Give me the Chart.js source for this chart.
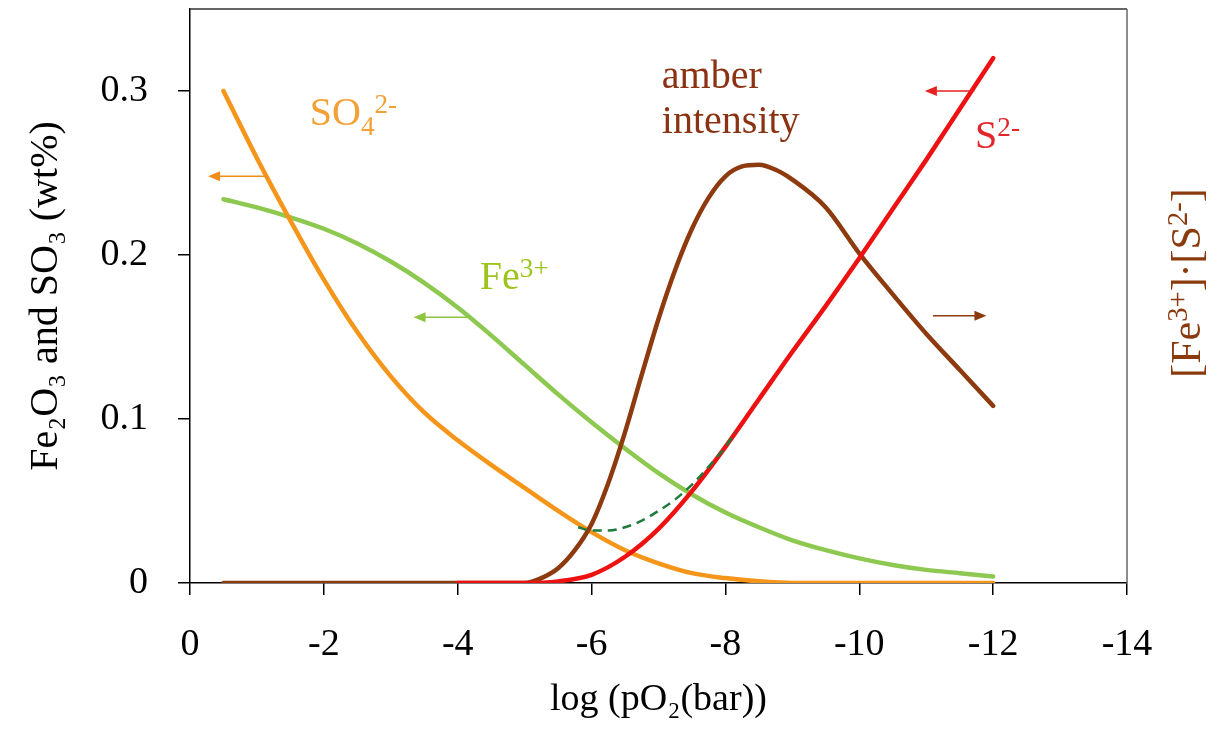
<!DOCTYPE html>
<html>
<head>
<meta charset="utf-8">
<script src="https://cdn.jsdelivr.net/npm/chart.js@4.4.1/dist/chart.umd.min.js"></script>
<style>
  html, body { margin: 0; padding: 0; background: #fff; }
  #wrap { width: 1213px; height: 731px; }
</style>
</head>
<body>
<div id="wrap"><canvas id="c" width="1213" height="731"></canvas></div>
<script>
// Datos (log pO2 en el eje x)
const xVals = [-0.5, -1, -1.5, -2, -2.5, -3, -3.5, -4, -4.5, -5, -5.5, -6, -6.5, -7, -7.5, -8, -8.5, -9, -9.5, -10, -10.5, -11, -11.5, -12];
const so4   = [0.300, 0.259, 0.221, 0.185, 0.153, 0.126, 0.104, 0.087, 0.072, 0.058, 0.044, 0.031, 0.020, 0.012, 0.006, 0.003, 0.001, 0, 0, 0, 0, 0, 0, 0];
const fe3   = [0.234, 0.229, 0.223, 0.216, 0.207, 0.196, 0.183, 0.168, 0.151, 0.133, 0.115, 0.098, 0.082, 0.067, 0.054, 0.043, 0.034, 0.026, 0.020, 0.015, 0.011, 0.008, 0.006, 0.004];
const s2    = [null, null, null, null, null, null, null, 0, 0, 0, 0.001, 0.005, 0.016, 0.033, 0.056, 0.083, 0.112, 0.141, 0.169, 0.198, 0.228, 0.258, 0.289, 0.320];
const amberX = [-0.5, -5, -5.25, -5.5, -5.75, -6, -6.25, -6.5, -6.75, -7, -7.25, -7.5, -7.75, -8, -8.25, -8.5, -8.75, -9, -9.5, -10, -10.5, -11, -11.5, -12];
const amber  = [0, 0, 0.003, 0.009, 0.020, 0.036, 0.061, 0.092, 0.127, 0.161, 0.191, 0.216, 0.235, 0.248, 0.254, 0.255, 0.252, 0.246, 0.229, 0.201, 0.176, 0.152, 0.130, 0.108];
const dashX = [-5.8, -6, -6.25, -6.5, -6.75, -7, -7.25, -7.5, -7.75, -8, -8.15];
const dashY = [0.034, 0.032, 0.032, 0.034, 0.038, 0.044, 0.051, 0.060, 0.071, 0.083, 0.092];
const xTicks = [0, -2, -4, -6, -8, -10, -12, -14];
const yTicks = [0, 0.1, 0.2, 0.3];

const SERIF = "'Liberation Serif', 'Times New Roman', serif";
const pts = (xs, ys) => xs.map((x, i) => ({ x: x, y: ys[i] }));

// Texto con subíndices / superíndices: kind 0 normal, -1 sub, 1 sup
function drawRich(ctx, x, y, parts, size, color, soloMedir) {
  let w = 0;
  parts.forEach(([txt, kind]) => {
    const fs = kind === 0 ? size : size * 0.68;
    ctx.font = fs + 'px ' + SERIF;
    const dy = kind === -1 ? size * 0.25 : kind === 1 ? -size * 0.3 : 0;
    if (!soloMedir) { ctx.fillStyle = color; ctx.fillText(txt, x + w, y + dy); }
    w += ctx.measureText(txt).width;
  });
  return w;
}

function arrow(ctx, x1, y1, x2, y2, color) {
  const a = Math.atan2(y2 - y1, x2 - x1);
  ctx.strokeStyle = color; ctx.fillStyle = color; ctx.lineWidth = 1.6;
  ctx.beginPath(); ctx.moveTo(x1, y1); ctx.lineTo(x2 - 9 * Math.cos(a), y2 - 9 * Math.sin(a)); ctx.stroke();
  ctx.beginPath(); ctx.moveTo(x2, y2);
  ctx.lineTo(x2 - 12 * Math.cos(a) + 5 * Math.sin(a), y2 - 12 * Math.sin(a) - 5 * Math.cos(a));
  ctx.lineTo(x2 - 12 * Math.cos(a) - 5 * Math.sin(a), y2 - 12 * Math.sin(a) + 5 * Math.cos(a));
  ctx.closePath(); ctx.fill();
}

// Etiquetas y flechas (en unidades de datos)
const etiquetas = [
  { parts: [['SO', 0], ['4', -1], ['2-', 1]], x: -1.79, y: 0.279, color: '#F5A033' },
  { parts: [['Fe', 0], ['3+', 1]], x: -4.33, y: 0.1795, color: '#9CC41C' },
  { parts: [['amber', 0]], x: -7.05, y: 0.302, color: '#8A3212' },
  { parts: [['intensity', 0]], x: -7.05, y: 0.2745, color: '#8A3212' },
  { parts: [['S', 0], ['2-', 1]], x: -11.73, y: 0.265, color: '#E3242B' }
];
const flechas = [
  { x1: -1.15, x2: -0.27, y: 0.248, color: '#F08C1A' },
  { x1: -4.15, x2: -3.34, y: 0.162, color: '#8CC63F' },
  { x1: -11.72, x2: -10.98, y: 0.300, color: '#E82020' },
  { x1: -11.1, x2: -11.9, y: 0.163, color: '#8B3A0E' }
];

const decoraciones = {
  id: 'decoraciones',
  beforeDatasetsDraw(chart) {
    const { ctx, chartArea: a } = chart;
    ctx.save();
    ctx.lineWidth = 1.5;
    ctx.strokeStyle = '#333';
    ctx.beginPath(); ctx.moveTo(a.left, a.top); ctx.lineTo(a.right, a.top); ctx.stroke();
    ctx.strokeStyle = '#666';
    ctx.beginPath(); ctx.moveTo(a.right, a.top); ctx.lineTo(a.right, a.bottom); ctx.stroke();
    ctx.restore();
  },
  afterDatasetsDraw(chart) {
    const { ctx, scales: { x, y } } = chart;
    ctx.save();
    ctx.textBaseline = 'alphabetic';
    ctx.textAlign = 'left';
    etiquetas.forEach(e => drawRich(ctx, x.getPixelForValue(e.x), y.getPixelForValue(e.y), e.parts, 40, e.color));
    flechas.forEach(f => arrow(ctx, x.getPixelForValue(f.x1), y.getPixelForValue(f.y), x.getPixelForValue(f.x2), y.getPixelForValue(f.y), f.color));
    // título del eje derecho, leído de abajo hacia arriba
    const partes = [['[Fe', 0], ['3+', 1], [']·[S', 0], ['2-', 1], [']', 0]];
    const w = drawRich(ctx, 0, 0, partes, 42, '#8B3A0E', true);
    ctx.translate(1200, 283);
    ctx.rotate(-Math.PI / 2);
    drawRich(ctx, -w / 2, 0, partes, 42, '#8B3A0E');
    ctx.restore();
  }
};

const linea = (data, color, yAxisID, order) => ({
  data: data, borderColor: color, borderWidth: 4.5, pointRadius: 0,
  cubicInterpolationMode: 'monotone', borderCapStyle: 'round', borderJoinStyle: 'round',
  fill: false, yAxisID: yAxisID, order: order, spanGaps: false
});

new Chart(document.getElementById('c'), {
  type: 'line',
  data: {
    datasets: [
      Object.assign(linea(pts(dashX, dashY), '#1E7B3A', 'y', 0), { borderWidth: 2.5, borderDash: [9, 6], borderCapStyle: 'butt' }),
      linea(pts(xVals, s2), '#EE1111', 'y', 1),
      linea(pts(amberX, amber), '#8E3A0F', 'y2', 2),
      linea(pts(xVals, so4), '#F5961A', 'y', 3),
      linea(pts(xVals, fe3), '#8DC950', 'y', 4)
    ]
  },
  options: {
    responsive: false,
    animation: false,
    devicePixelRatio: 1,
    layout: { padding: { top: 9, right: 86, left: 0, bottom: 0 } },
    plugins: { legend: { display: false }, tooltip: { enabled: false } },
    scales: {
      x: {
        type: 'linear', min: -14, max: 0, reverse: true,
        afterBuildTicks: s => { s.ticks = xTicks.map(v => ({ value: v })); },
        afterFit: s => { s.height = 148; s.paddingLeft = 0; s.paddingRight = 0; },
        ticks: { font: { family: SERIF, size: 38 }, color: '#000', padding: 27, callback: v => String(v) },
        grid: { drawOnChartArea: false, drawTicks: true, tickLength: 12, color: '#000', lineWidth: 1.5 },
        border: { display: true, color: '#000', width: 1.5 },
        title: { display: true, text: 'log (pO₂(bar))', font: { family: SERIF, size: 38 }, color: '#000', padding: { top: 4, bottom: 8 } }
      },
      y: {
        min: 0, max: 0.35,
        afterBuildTicks: s => { s.ticks = yTicks.map(v => ({ value: v })); },
        afterFit: s => { s.width = 190; s.paddingTop = 0; s.paddingBottom = 0; },
        ticks: { font: { family: SERIF, size: 38 }, color: '#000', padding: 30, callback: v => String(v) },
        grid: { drawOnChartArea: false, drawTicks: true, tickLength: 12, color: '#000', lineWidth: 1.5 },
        border: { display: true, color: '#000', width: 1.5 },
        title: { display: true, text: 'Fe₂O₃ and SO₃ (wt%)', font: { family: SERIF, size: 40 }, color: '#000', padding: { top: 22, bottom: 0 } }
      },
      y2: { display: false, position: 'right', min: 0, max: 0.35 }
    }
  },
  plugins: [decoraciones]
});
</script>
</body>
</html>
